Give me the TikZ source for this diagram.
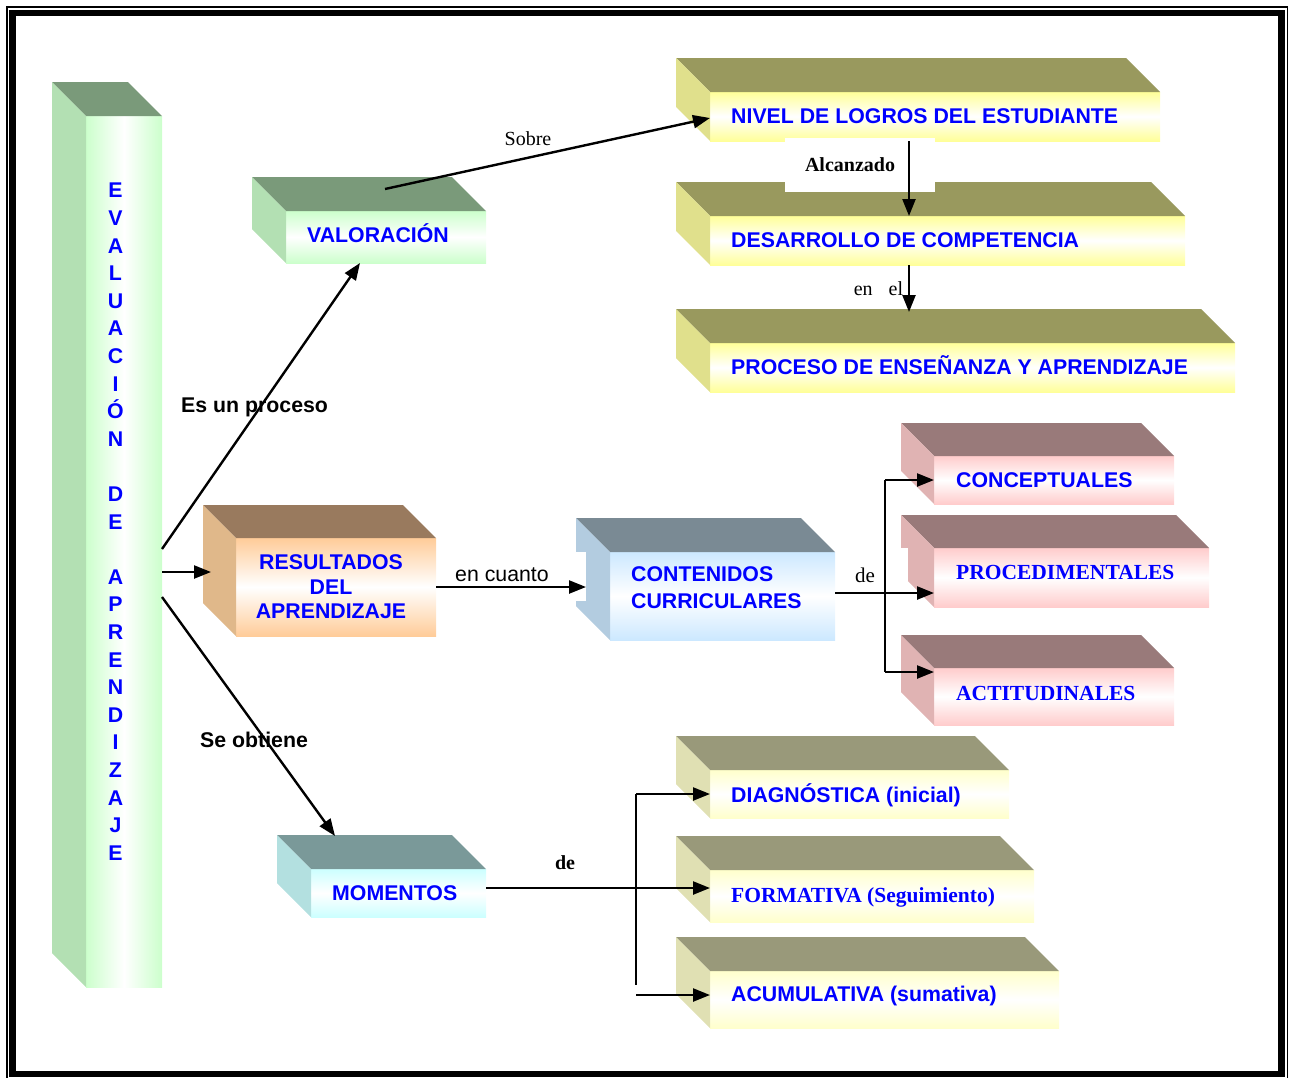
\documentclass[tikz,border=0pt]{standalone}
\usepackage{fontspec}
\setmainfont{Liberation Serif}
\setsansfont{Liberation Sans}
\usetikzlibrary{calc,arrows.meta}
\definecolor{gTop}{HTML}{7A9A7A}\definecolor{gSide}{HTML}{B3E0B3}\definecolor{gFront}{HTML}{CCFFCC}
\definecolor{oTop}{HTML}{99995E}\definecolor{oSide}{HTML}{E0E08C}\definecolor{oFront}{HTML}{FFFF99}
\definecolor{bTop}{HTML}{997A5E}\definecolor{bSide}{HTML}{E0B88A}\definecolor{bFront}{HTML}{FFCC99}
\definecolor{cTop}{HTML}{7A8A94}\definecolor{cSide}{HTML}{B3CCE0}\definecolor{cFront}{HTML}{CCE8FF}
\definecolor{mTop}{HTML}{997A7A}\definecolor{mSide}{HTML}{E0B3B3}\definecolor{mFront}{HTML}{FFCCCC}
\definecolor{kTop}{HTML}{99997A}\definecolor{kSide}{HTML}{E0E0B3}\definecolor{kFront}{HTML}{FFFFCC}
\definecolor{tTop}{HTML}{7A9999}\definecolor{tSide}{HTML}{B3E0E0}\definecolor{tFront}{HTML}{CCFFFF}
\definecolor{txtblue}{HTML}{0000FF}
\newcommand{\cubesides}[4]{%
  \fill[#3] (#1.north west) -- ++(-#2,-#2) -- ($(#1.north east)+(-#2,-#2)$) -- (#1.north east) -- cycle;
  \fill[#4] (#1.north west) -- ++(-#2,-#2) -- ($(#1.south west)+(-#2,-#2)$) -- (#1.south west) -- cycle;}
\begin{document}
\begin{tikzpicture}[x=1pt,y=-1pt,
  front/.style={inner sep=0pt, outer sep=0pt},
  vshade/.style={top color=#1, bottom color=#1, middle color=white},
  hshade/.style={left color=#1, right color=#1, middle color=white},
  arr/.style={line width=2.4pt, -{Triangle[length=17pt,width=13pt]}},
  ln/.style={line width=2.4pt},
  boxtxt/.style={inner sep=0pt, text=txtblue, font=\sffamily\bfseries\fontsize{21.3}{25}\selectfont},
  sertxt/.style={inner sep=0pt, text=txtblue, font=\rmfamily\bfseries\fontsize{21.5}{25}\selectfont},
  lblsans/.style={inner sep=0pt, font=\sffamily\bfseries\fontsize{21.3}{25}\selectfont},
  lblsansr/.style={inner sep=0pt, font=\sffamily\fontsize{21.3}{25}\selectfont},
  lblser/.style={inner sep=0pt, font=\rmfamily\fontsize{20}{24}\selectfont},
  lblserb/.style={inner sep=0pt, font=\rmfamily\bfseries\fontsize{20}{24}\selectfont},
  ]
\useasboundingbox (0,0) rectangle (1291,1077);
% frame
\draw[line width=1.2pt] (7,7) rectangle (1287.5,1082);
\draw[line width=6.5pt] (12.5,13) rectangle (1281.5,1074);

% ---- cubes ----
\node[front, hshade=gFront, minimum width=76pt, minimum height=871pt] (eva) at (124,551.5) {};
\cubesides{eva}{34}{gTop}{gSide}
\node[front, vshade=gFront, minimum width=200pt, minimum height=52pt] (val) at (386,237) {};
\cubesides{val}{34}{gTop}{gSide}
\node[front, vshade=oFront, minimum width=450pt, minimum height=49pt] (niv) at (935,116.5) {};
\cubesides{niv}{34}{oTop}{oSide}
\node[front, vshade=oFront, minimum width=475pt, minimum height=49pt] (des) at (947.5,240.5) {};
\cubesides{des}{34}{oTop}{oSide}
\node[front, vshade=oFront, minimum width=525pt, minimum height=49pt] (pro) at (972.5,367.5) {};
\cubesides{pro}{34}{oTop}{oSide}
\node[front, vshade=bFront, minimum width=200pt, minimum height=98pt] (res) at (336,587) {};
\cubesides{res}{33}{bTop}{bSide}
\node[front, vshade=cFront, minimum width=225pt, minimum height=88pt] (con) at (722.5,596) {};
\cubesides{con}{34}{cTop}{cSide}
\node[front, vshade=mFront, minimum width=240pt, minimum height=48pt] (cpt) at (1054,480) {};
\cubesides{cpt}{33}{mTop}{mSide}
\node[front, vshade=mFront, minimum width=275pt, minimum height=59pt] (prc) at (1071.5,577.5) {};
\cubesides{prc}{33}{mTop}{mSide}
\node[front, vshade=mFront, minimum width=240pt, minimum height=57pt] (act) at (1054,696.5) {};
\cubesides{act}{33}{mTop}{mSide}
\node[front, vshade=kFront, minimum width=299pt, minimum height=48pt] (dia) at (859.5,794) {};
\cubesides{dia}{34}{kTop}{kSide}
\node[front, vshade=kFront, minimum width=324pt, minimum height=52pt] (frm) at (872,896) {};
\cubesides{frm}{34}{kTop}{kSide}
\node[front, vshade=kFront, minimum width=349pt, minimum height=57pt] (acu) at (884.5,999.5) {};
\cubesides{acu}{34}{kTop}{kSide}
\node[front, vshade=tFront, minimum width=175pt, minimum height=48pt] (mom) at (398.5,893) {};
\cubesides{mom}{34}{tTop}{tSide}

% notches
\fill[white] ($(con.north west)+(-34,0)$) rectangle ($(con.north west)+(-24,49)$);
\fill[white] ($(prc.north west)+(-33,0)$) rectangle ($(prc.north west)+(-26,34)$);

% ---- box texts ----
\node[boxtxt, align=center, font=\sffamily\bfseries\fontsize{21.3}{27.6}\selectfont] (eva-t) at (115.5,521.7)
  {E\\V\\A\\L\\U\\A\\C\\I\\Ó\\N\\\mbox{}\\D\\E\\\mbox{}\\A\\P\\R\\E\\N\\D\\I\\Z\\A\\J\\E};
\node[boxtxt, anchor=base west] (val-t) at ($(val.west)+(21,5.5)$) {VALORACIÓN};
\node[boxtxt, anchor=base west] (niv-t) at ($(niv.west)+(21,7)$) {NIVEL DE LOGROS DEL ESTUDIANTE};
\node[boxtxt, anchor=base west] (des-t) at ($(des.west)+(21,7)$) {DESARROLLO DE COMPETENCIA};
\node[boxtxt, anchor=base west] (pro-t) at ($(pro.west)+(21,7)$) {PROCESO DE ENSEÑANZA Y APRENDIZAJE};
\node[boxtxt, align=center, font=\sffamily\bfseries\fontsize{21.3}{24.5}\selectfont] (res-t) at (331,587) {RESULTADOS\\DEL\\APRENDIZAJE};
\node[boxtxt, align=left, anchor=west, font=\sffamily\bfseries\fontsize{21.3}{26.5}\selectfont] (con-t) at ($(con.west)+(21,-8.5)$) {CONTENIDOS\\CURRICULARES};
\node[boxtxt, anchor=base west] (cpt-t) at ($(cpt.west)+(22,7.5)$) {CONCEPTUALES};
\node[sertxt, anchor=base west] (prc-t) at ($(prc.west)+(22,1.5)$) {PROCEDIMENTALES};
\node[sertxt, anchor=base west] (act-t) at ($(act.west)+(22,3.5)$) {ACTITUDINALES};
\node[boxtxt, anchor=base west] (dia-t) at ($(dia.west)+(21,8.5)$) {DIAGNÓSTICA (inicial)};
\node[sertxt, anchor=base west] (frm-t) at ($(frm.west)+(21,6)$) {FORMATIVA (Seguimiento)};
\node[boxtxt, anchor=base west] (acu-t) at ($(acu.west)+(21,2)$) {ACUMULATIVA (sumativa)};
\node[boxtxt, anchor=base west] (mom-t) at ($(mom.west)+(21,7.5)$) {MOMENTOS};

% ---- connector labels ----
\node[lblser] (l-sobre) at (528,139) {Sobre};
\node[lblserb, fill=white, minimum width=150pt, minimum height=54pt] (l-alc) at (860,165) {Alcanzado\rule{20pt}{0pt}};
\node[lblser] (l-enel) at (878.5,289) {en\hspace{16pt}el};
\node[lblsans, anchor=base west] (l-proc) at (181,412.5) {Es un proceso};
\node[lblsansr, anchor=base west] (l-cuanto) at (455,581) {en cuanto};
\node[lblser, anchor=base west, font=\rmfamily\fontsize{21}{24}\selectfont] (l-de1) at (855,582) {de};
\node[lblsans, anchor=base west] (l-obt) at (200,747) {Se obtiene};
\node[lblserb] (l-de2) at (565,863) {de};

% ---- connectors ----
\coordinate (cx) at (909,0);
\coordinate (bx) at (885,0);
\coordinate (mx) at (636,0);
\draw[arr] ($(val.north west)+(99,-22)$) -- ($(niv.west)+(0,1.5)$);
\draw[arr] (niv.south -| cx) -- (des.north -| cx);
\draw[arr] (des.south -| cx) -- ($(pro.north -| cx)+(0,-31)$);
\draw[arr] ($(eva.east)+(0,-2.5)$) -- ($(val.south)+(-26,0)$);
\draw[arr] ($(eva.east)+(0,20.5)$) -- ($(res.west)+(-25,-15)$);
\draw[arr] ($(eva.east)+(0,45.5)$) -- ($(mom.north west)+(24,-33)$);
\draw[arr] (res.east) -- ($(res.east -| con.west)+(-24,0)$);
\coordinate (cst) at ($(con.east)+(0,-3)$);
\draw[arr] (cst) -- (cst -| prc.west);
\draw[ln] (bx |- cpt.west) -- ($(bx |- act.north west)+(0,4)$);
\draw[arr] (bx |- cpt.west) -- (cpt.west);
\draw[arr] ($(bx |- act.north west)+(0,4)$) -- ($(act.north west)+(0,4)$);
\coordinate (mst) at ($(mom.east)+(0,-5)$);
\draw[arr] (mst) -- (mst -| frm.west);
\draw[ln] (mx |- dia.west) -- ($(mx |- acu.west)+(0,-14.5)$);
\draw[arr] (mx |- dia.west) -- (dia.west);
\draw[arr] ($(mx |- acu.west)+(0,-4.5)$) -- ($(acu.west)+(0,-4.5)$);
\end{tikzpicture}
\end{document}
